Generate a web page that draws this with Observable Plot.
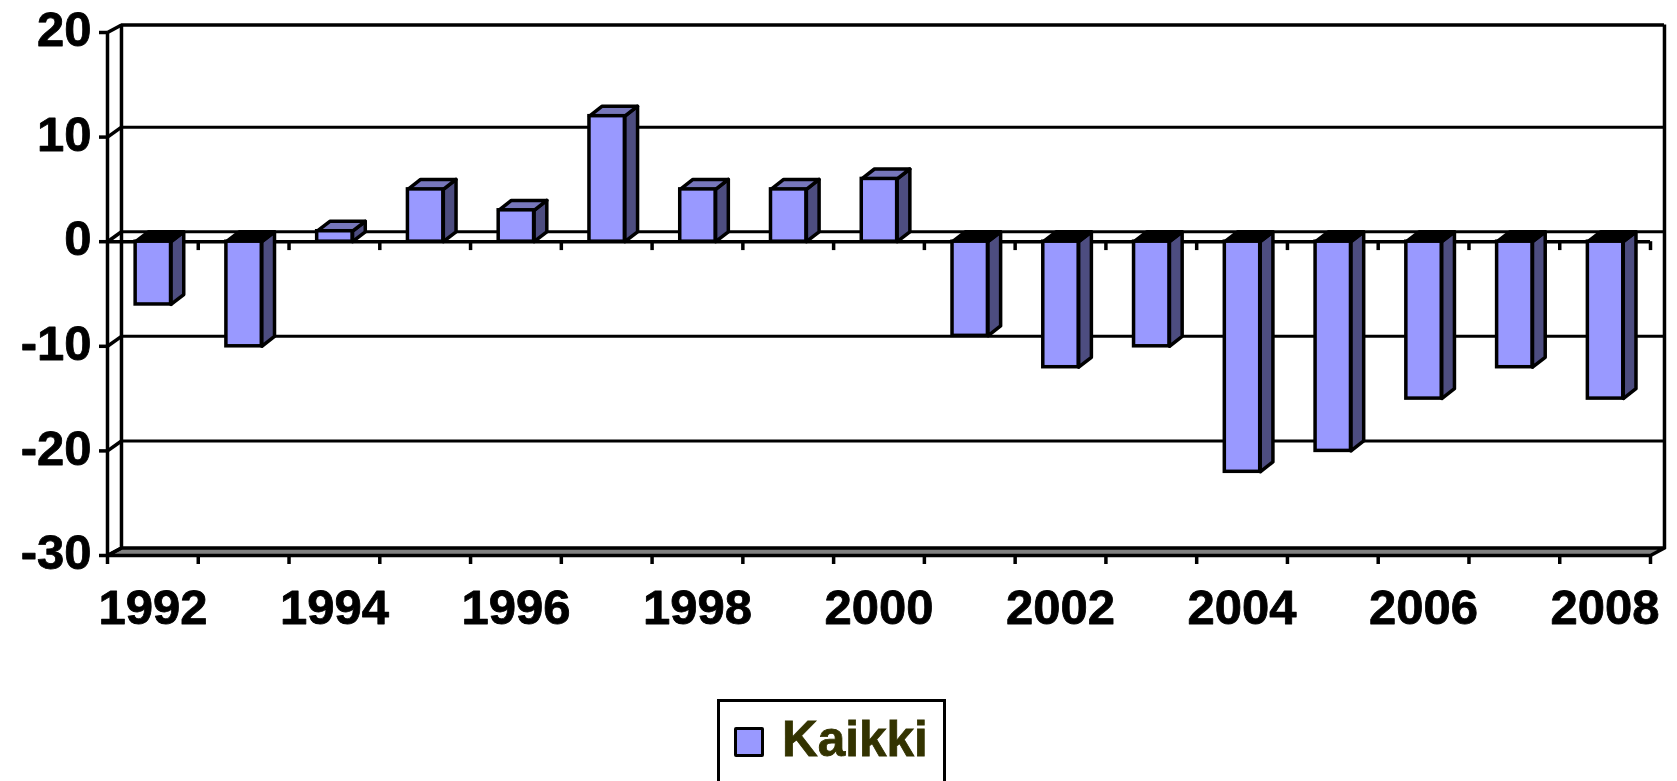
<!DOCTYPE html>
<html>
<head>
<meta charset="utf-8">
<script src="https://cdn.jsdelivr.net/npm/d3@7"></script>
<script src="https://cdn.jsdelivr.net/npm/@observablehq/plot@0.6"></script>
<style>
html,body{margin:0;padding:0;background:#fff;overflow:hidden;width:1677px;height:781px}
svg{display:block}
#legend{position:absolute;left:717px;top:699px;width:223px;height:120px;border:3.5px solid #000;background:#fff;box-sizing:content-box}
#swatch{position:absolute;left:14px;top:25px;width:24px;height:24px;background:#9999ff;border:3.5px solid #000;border-radius:2px}
#label{position:absolute;left:62px;top:9px;font:bold 49.5px/56px "Liberation Sans",Arial,sans-serif;color:#333300;-webkit-text-stroke:0.8px #333300}
</style>
</head>
<body>
<div id="chart"></div>
<div id="legend"><div id="swatch"></div><div id="label">Kaikki</div></div>
<script>
const years = [1992,1993,1994,1995,1996,1997,1998,1999,2000,2001,2002,2003,2004,2005,2006,2007,2008];
const kaikki = [-6,-10,1,5,3,12,5,5,6,-9,-12,-10,-22,-20,-15,-12,-15];
const yTicks = [20,10,0,-10,-20,-30];
const gridValues = [10,0,-10,-20];
const labelYears = [1992,1994,1996,1998,2000,2002,2004,2006,2008];
const tickYears = [...years, 2009];

const FRONT = "#9999ff", TOP = "#7777bb", TOP_NEG = "#000000", SIDE = "#4d4d80";
const barL = 0.31, barR = 0.70;   // bar position inside its year band
const bdx = 0.14, bdy = 0.95;     // bar depth in scale units
const wdx = 0.154, wdy = 0.95;    // wall depth in scale units
const edge = 0.72;                // top / floor edge depth

const poly = (g, pts) => [...pts, pts[0]].map(([x, y]) => ({g, x, y}));
const x0 = years[0], x1 = tickYears[tickYears.length - 1];

const sideRows = years.flatMap((yr, i) => {
  const v = kaikki[i], r = yr + barR;
  return poly(i, [[r, 0], [r, v], [r + bdx, v + bdy], [r + bdx, bdy]]);
});
const topRows = (neg) => years.flatMap((yr, i) => {
  const v = kaikki[i];
  if ((v < 0) !== neg) return [];
  const top = Math.max(v, 0), l = yr + barL, r = yr + barR;
  return poly(i, [[l, top], [r, top], [r + bdx, top + bdy], [l + bdx, top + bdy]]);
});
const floorRows = poly("floor", [[x0, -30], [x1, -30], [x1 + wdx, -30 + edge], [x0 + wdx, -30 + edge]]);
const bars = years.map((yr, i) => ({yr, v: kaikki[i]}));
const lineStyle = {stroke: "#000", strokeWidth: 3.5};
const labelStyle = {fontSize: 49, fontWeight: "bold", fill: "#000", stroke: "#000", strokeWidth: 0.8};

const plot = Plot.plot({
  width: 1677,
  height: 700,
  marginLeft: 107,
  marginRight: 27,
  marginTop: 32,
  marginBottom: 145,
  style: {background: "#fff", fontFamily: "'Liberation Sans', Arial, sans-serif"},
  x: {domain: [x0, x1], label: null},
  y: {domain: [-30, 20], label: null},
  marks: [
    // back wall gridlines
    Plot.ruleY(gridValues, {y: d => d + wdy, x1: x0 + wdx, x2: x1 + wdx, stroke: "#000", strokeWidth: 3}),
    // wall outline
    Plot.ruleY([20 + edge], {x1: x0 + wdx, x2: x1 + wdx, ...lineStyle}),
    Plot.ruleX([x0 + wdx, x1 + wdx], {y1: -30 + edge, y2: 20 + edge, ...lineStyle}),
    Plot.ruleX([x0], {y1: -30, y2: 20, ...lineStyle}),
    // floor
    Plot.line(floorRows, {x: "x", y: "y", z: "g", fill: "#808080", ...lineStyle}),
    // diagonals from the front axis to the wall
    Plot.link(yTicks, {
      x1: () => x0, y1: d => d,
      x2: () => x0 + wdx, y2: d => d + (d === 20 || d === -30 ? edge : wdy),
      ...lineStyle
    }),
    // zero plane front line and its ticks
    Plot.ruleY([0], {x1: x0, x2: x1, ...lineStyle}),
    Plot.ruleX(tickYears.slice(1), {y1: 0, y2: -0.85, ...lineStyle}),
    // bars
    Plot.line(sideRows, {x: "x", y: "y", z: "g", fill: SIDE, ...lineStyle}),
    Plot.line(topRows(false), {x: "x", y: "y", z: "g", fill: TOP, ...lineStyle}),
    Plot.line(topRows(true), {x: "x", y: "y", z: "g", fill: TOP_NEG, ...lineStyle}),
    Plot.rect(bars, {
      x1: d => d.yr + barL, x2: d => d.yr + barR,
      y1: () => 0, y2: "v",
      fill: FRONT, ...lineStyle
    }),
    // axes
    Plot.axisY({
      ticks: yTicks, tickSize: 8, strokeWidth: 3.5, tickFormat: () => "", label: null, marginLeft: 107
    }),
    Plot.text(yTicks, {
      x: () => x0, y: d => d, text: d => String(d), dx: -16, dy: -2,
      textAnchor: "end", lineAnchor: "middle", ...labelStyle
    }),
    Plot.axisX({
      ticks: tickYears, tickSize: 9, strokeWidth: 3.5, tickFormat: () => "", label: null
    }),
    Plot.text(labelYears, {
      x: d => d + 0.5, y: () => -30, text: d => String(d), dy: 53,
      lineAnchor: "middle", ...labelStyle
    })
  ]
});
document.getElementById("chart").appendChild(plot);
</script>
</body>
</html>
